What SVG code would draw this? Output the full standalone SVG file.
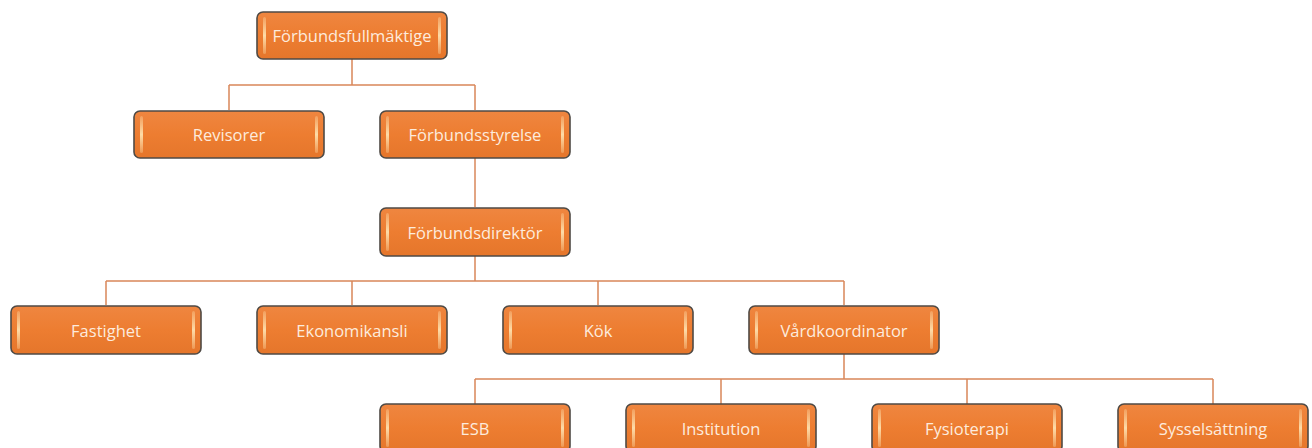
<svg xmlns="http://www.w3.org/2000/svg" width="1312" height="448" viewBox="0 0 1312 448">
<defs>
<linearGradient id="fill" x1="0" y1="0" x2="0" y2="1">
<stop offset="0" stop-color="#EF8640"/>
<stop offset="0.5" stop-color="#ED7D31"/>
<stop offset="1" stop-color="#E5762B"/>
</linearGradient>
<linearGradient id="gloss" x1="0" y1="0" x2="0" y2="1">
<stop offset="0" stop-color="#FFE3B0" stop-opacity="0.3"/>
<stop offset="0.5" stop-color="#FFE6B5" stop-opacity="0.9"/>
<stop offset="1" stop-color="#FFE3B0" stop-opacity="0.3"/>
</linearGradient>
</defs>
<style>
.box{fill:url(#fill);stroke:#4F4A45;stroke-width:1.6}
.hl{fill:url(#gloss)}
.lbl{font-family:"Open Sans","Liberation Sans",sans-serif;font-size:16.5px;fill:#FDEBDD;text-anchor:middle;dominant-baseline:central}
.con{fill:none;stroke:#D9875A;stroke-width:1.5}
</style>
<g id="connectors">
<path class="con" d="M352 59V85M229 85H475M229 85V110M475 85V110"/>
<path class="con" d="M475 158V207"/>
<path class="con" d="M475 256V281M106 281H844M106 281V305M352 281V305M598 281V305M844 281V305"/>
<path class="con" d="M844 354V379M475 379H1213M475 379V404M721 379V404M967 379V404M1213 379V404"/>
</g>
<g id="n-fullmaktige"><rect class="box" x="257" y="12" width="190" height="47" rx="6"/><rect class="hl" x="263" y="17" width="3" height="37" rx="1.5"/><rect class="hl" x="438" y="17" width="3" height="37" rx="1.5"/><text class="lbl" x="352" y="35.5">Förbundsfullmäktige</text></g>
<g id="n-revisorer"><rect class="box" x="134" y="111" width="190" height="47" rx="6"/><rect class="hl" x="140" y="116" width="3" height="37" rx="1.5"/><rect class="hl" x="315" y="116" width="3" height="37" rx="1.5"/><text class="lbl" x="229" y="134.5">Revisorer</text></g>
<g id="n-styrelse"><rect class="box" x="380" y="111" width="190" height="47" rx="6"/><rect class="hl" x="386" y="116" width="3" height="37" rx="1.5"/><rect class="hl" x="561" y="116" width="3" height="37" rx="1.5"/><text class="lbl" x="475" y="134.5">Förbundsstyrelse</text></g>
<g id="n-direktor"><rect class="box" x="380" y="208" width="190" height="48" rx="6"/><rect class="hl" x="386" y="213" width="3" height="38" rx="1.5"/><rect class="hl" x="561" y="213" width="3" height="38" rx="1.5"/><text class="lbl" x="475" y="232">Förbundsdirektör</text></g>
<g id="n-fastighet"><rect class="box" x="11" y="306" width="190" height="48" rx="6"/><rect class="hl" x="17" y="311" width="3" height="38" rx="1.5"/><rect class="hl" x="192" y="311" width="3" height="38" rx="1.5"/><text class="lbl" x="106" y="330">Fastighet</text></g>
<g id="n-ekonomikansli"><rect class="box" x="257" y="306" width="190" height="48" rx="6"/><rect class="hl" x="263" y="311" width="3" height="38" rx="1.5"/><rect class="hl" x="438" y="311" width="3" height="38" rx="1.5"/><text class="lbl" x="352" y="330">Ekonomikansli</text></g>
<g id="n-kok"><rect class="box" x="503" y="306" width="190" height="48" rx="6"/><rect class="hl" x="509" y="311" width="3" height="38" rx="1.5"/><rect class="hl" x="684" y="311" width="3" height="38" rx="1.5"/><text class="lbl" x="598" y="330">Kök</text></g>
<g id="n-vardkoordinator"><rect class="box" x="749" y="306" width="190" height="48" rx="6"/><rect class="hl" x="755" y="311" width="3" height="38" rx="1.5"/><rect class="hl" x="930" y="311" width="3" height="38" rx="1.5"/><text class="lbl" x="844" y="330">Vårdkoordinator</text></g>
<g id="n-esb"><rect class="box" x="380" y="404" width="190" height="48" rx="6"/><rect class="hl" x="386" y="409" width="3" height="38" rx="1.5"/><rect class="hl" x="561" y="409" width="3" height="38" rx="1.5"/><text class="lbl" x="475" y="428">ESB</text></g>
<g id="n-institution"><rect class="box" x="626" y="404" width="190" height="48" rx="6"/><rect class="hl" x="632" y="409" width="3" height="38" rx="1.5"/><rect class="hl" x="807" y="409" width="3" height="38" rx="1.5"/><text class="lbl" x="721" y="428">Institution</text></g>
<g id="n-fysioterapi"><rect class="box" x="872" y="404" width="190" height="48" rx="6"/><rect class="hl" x="878" y="409" width="3" height="38" rx="1.5"/><rect class="hl" x="1053" y="409" width="3" height="38" rx="1.5"/><text class="lbl" x="967" y="428">Fysioterapi</text></g>
<g id="n-sysselsattning"><rect class="box" x="1118" y="404" width="190" height="48" rx="6"/><rect class="hl" x="1124" y="409" width="3" height="38" rx="1.5"/><rect class="hl" x="1299" y="409" width="3" height="38" rx="1.5"/><text class="lbl" x="1213" y="428">Sysselsättning</text></g>
</svg>
